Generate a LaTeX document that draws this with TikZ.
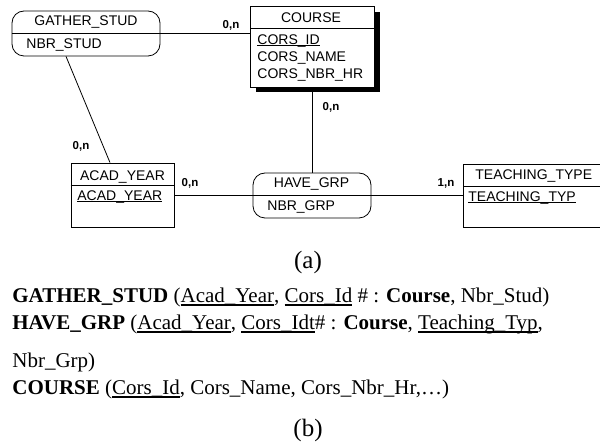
\documentclass[tikz,border=0pt]{standalone}
\usepackage{fontspec}
\setmainfont{Liberation Serif}
\newfontfamily\arialf{Liberation Sans}
\newsavebox\myulbox
\newcommand\myul[1]{\sbox\myulbox{#1}\rlap{\rule[-0.12em]{\wd\myulbox}{0.055em}}\usebox\myulbox}
\begin{document}
\begin{tikzpicture}[x=1pt,y=-1pt,
  line width=0.8pt,
  dtxt/.style={font=\arialf\fontsize{14}{16}\selectfont, inner sep=0pt},
  card/.style={font=\arialf\bfseries\fontsize{11.5}{13}\selectfont, inner sep=0pt},
  rbox/.style={draw, rounded corners=12pt, inner sep=0pt, fill=white},
  ebox/.style={draw, inner sep=0pt, fill=white},
  btxt/.style={font=\fontsize{21}{24}\selectfont, inner sep=0pt, anchor=base west},
  captxt/.style={font=\fontsize{25}{28}\selectfont, inner sep=0pt}
]
\useasboundingbox (0,0) rectangle (600,443);
\fill[white] (0,0) rectangle (600,443);

% ---- nodes (boxes)
\node[rbox, minimum width=148pt, minimum height=45pt] (gs) at (86,33.5) {};
\fill[black] (256,12) rectangle (379.5,92.5);
\node[ebox, minimum width=124pt, minimum height=81pt] (course) at (312.5,46.5) {};
\node[ebox, minimum width=103pt, minimum height=64pt] (acad) at (122.5,195) {};
\node[rbox, minimum width=118pt, minimum height=45pt] (have) at (312,195.5) {};
\coordinate (tnw) at (463,164);
\coordinate (tsw) at (463,227);

% separators
\draw (gs.west) -- (gs.east);
\draw (course.west |- 0,28) -- (course.east |- 0,28);
\draw (acad.west |- 0,185) -- (acad.east |- 0,185);
\draw (have.west) -- (have.east);
\draw (601,164) -- (tnw) -- (tsw) -- (601,227);
\draw (tnw |- 0,186) -- (601,186);

% ---- connectors
\draw (gs.east) -- (gs.east -| course.west);
\draw ([xshift=-20pt]gs.south) -- ([xshift=-12.5pt]acad.north);
\draw (have.north) -- (have.north |- 0,92.5);
\draw (acad.east |- have.west) -- (have.west);
\draw (have.east) -- (have.east -| tnw);

% ---- texts
\node[dtxt] (gst) at (86,22) {GATHER\_STUD};
\node[dtxt, anchor=west] (gsa) at (26,45.5) {NBR\_STUD};
\node[dtxt] (ct) at (311,17.5) {COURSE};
\node[dtxt, anchor=base west] (c1) at (257,44.5) {\myul{CORS\_ID}};
\node[dtxt, anchor=base west] (c2) at (257,61.5) {CORS\_NAME};
\node[dtxt, anchor=base west] (c3) at (257,78.5) {CORS\_NBR\_HR};
\node[dtxt] (at) at (122.5,177) {ACAD\_YEAR};
\node[dtxt, anchor=base west] (a1) at (77,200.5) {\myul{ACAD\_YEAR}};
\node[dtxt] (ht) at (311.5,184.5) {HAVE\_GRP};
\node[dtxt, anchor=west] (h1) at (267,207) {NBR\_GRP};
\node[dtxt, anchor=west] (tt) at (475,176.5) {TEACHING\_TYPE};
\node[dtxt, anchor=base west] (t1) at (468,201.5) {\myul{TEACHING\_TYP}};

% cardinalities
\node[card] (l1) at (231,25) {0,n};
\node[card] (l2) at (81,146) {0,n};
\node[card] (l3) at (331,107) {0,n};
\node[card] (l4) at (190,183) {0,n};
\node[card] (l5) at (446,183) {1,n};

% ---- captions and text
\node[captxt] (capa) at (308,262) {(a)};
\node[btxt] (r1) at (12,303) {\textbf{GATHER\_STUD} (\myul{Acad\_Year}, \myul{Cors\_Id} \# : \textbf{Course}, Nbr\_Stud)};
\node[btxt] (r2) at (12,330) {\textbf{HAVE\_GRP} (\myul{Acad\_Year}, \myul{Cors\_Idt}\# : \textbf{Course}, \myul{Teaching\_Typ},};
\node[btxt] (r3) at (12,368) {Nbr\_Grp)};
\node[btxt] (r4) at (12,395) {\textbf{COURSE} (\myul{Cors\_Id}, Cors\_Name, Cors\_Nbr\_Hr,…)};
\node[captxt] (capb) at (308,430) {(b)};
\end{tikzpicture}
\end{document}
